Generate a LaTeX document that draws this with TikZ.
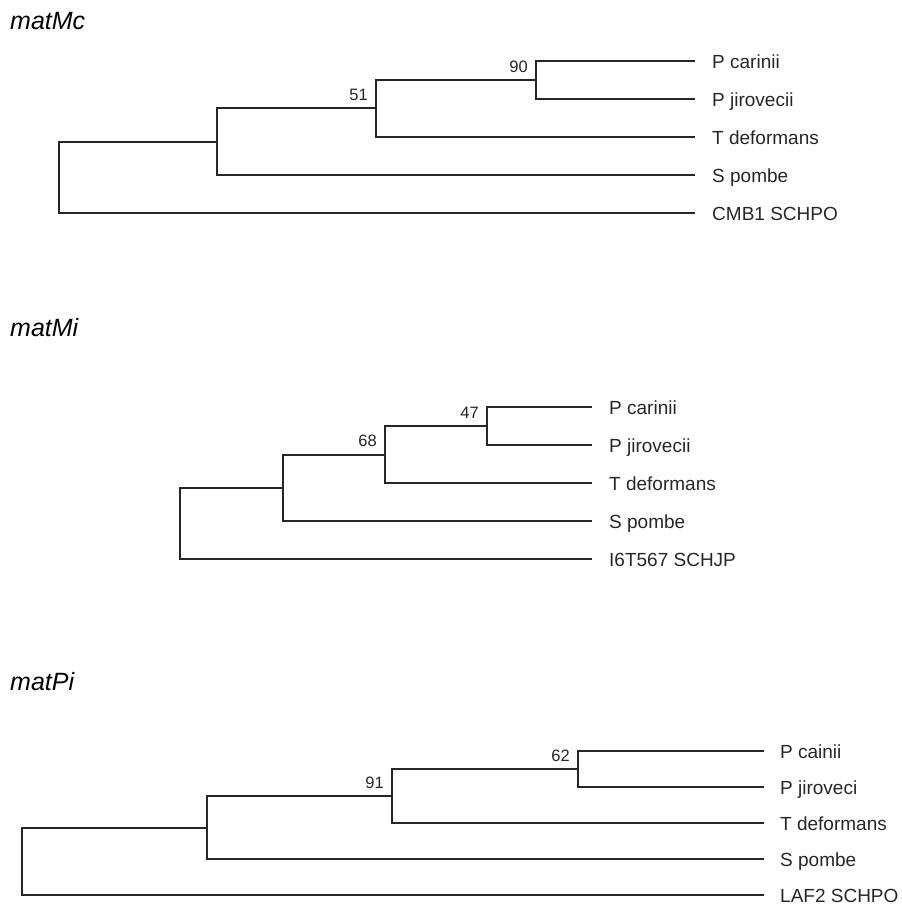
\documentclass[tikz,border=0pt]{standalone}
\usepackage{fontspec}
\setmainfont{Liberation Sans}
\begin{document}
\begin{tikzpicture}[x=1pt,y=-1pt,
  branch/.style={draw=black!85, line width=1.8pt, line join=miter},
  leaf/.style={anchor=base west, inner sep=0pt, text=black!85, font=\fontsize{19}{23}\selectfont},
  boot/.style={anchor=base east, inner sep=0pt, text=black!85, font=\fontsize{16.5}{20}\selectfont},
  ttl/.style={anchor=base west, inner sep=0pt, text=black, font=\fontsize{25}{30}\selectfont\itshape}]
\useasboundingbox (0,0) rectangle (902,905);

% ---------- matMc ----------
\node[ttl] (t1) at (10,29) {matMc};
\coordinate (a1) at (695,61);
\coordinate (a2) at (695,99);
\coordinate (a3) at (695,137);
\coordinate (a4) at (695,175);
\coordinate (a5) at (695,213);
\coordinate (m90) at (536,80);
\coordinate (m51) at (376,108);
\coordinate (m3) at (217,142);
\coordinate (mr) at (59,177);
\node[leaf] (la1) at (712,68) {P carinii};
\node[leaf] (la2) at (712,106) {P jirovecii};
\node[leaf] (la3) at (712,144) {T deformans};
\node[leaf] (la4) at (712,182) {S pombe};
\node[leaf] (la5) at (712,220) {CMB1 SCHPO};
\draw[branch] (a1) -| (m90) |- (a2);
\draw[branch] (m90) -| (m51) |- (a3);
\draw[branch] (m51) -| (m3) |- (a4);
\draw[branch] (m3) -| (mr) |- (a5);
\node[boot] (bm90) at (528,72) {90};
\node[boot] (bm51) at (368,100) {51};

% ---------- matMi ----------
\node[ttl] (t2) at (10,336) {matMi};
\coordinate (b1) at (592,407);
\coordinate (b2) at (592,445);
\coordinate (b3) at (592,483);
\coordinate (b4) at (592,521);
\coordinate (b5) at (592,559);
\coordinate (i47) at (487,426);
\coordinate (i68) at (385,455);
\coordinate (i3) at (283,488);
\coordinate (ir) at (180,523);
\node[leaf] (lb1) at (609,414) {P carinii};
\node[leaf] (lb2) at (609,452) {P jirovecii};
\node[leaf] (lb3) at (609,490) {T deformans};
\node[leaf] (lb4) at (609,528) {S pombe};
\node[leaf] (lb5) at (609,566) {I6T567 SCHJP};
\draw[branch] (b1) -| (i47) |- (b2);
\draw[branch] (i47) -| (i68) |- (b3);
\draw[branch] (i68) -| (i3) |- (b4);
\draw[branch] (i3) -| (ir) |- (b5);
\node[boot] (bi47) at (479,418) {47};
\node[boot] (bi68) at (377,446) {68};

% ---------- matPi ----------
\node[ttl] (t3) at (10,690) {matPi};
\coordinate (c1) at (764,751);
\coordinate (c2) at (764,787);
\coordinate (c3) at (764,823);
\coordinate (c4) at (764,859);
\coordinate (c5) at (764,895);
\coordinate (p62) at (578,769);
\coordinate (p91) at (392,796);
\coordinate (p3) at (207,828);
\coordinate (pr) at (22,861);
\node[leaf] (lc1) at (780,758) {P cainii};
\node[leaf] (lc2) at (780,794) {P jiroveci};
\node[leaf] (lc3) at (780,830) {T deformans};
\node[leaf] (lc4) at (780,866) {S pombe};
\node[leaf] (lc5) at (780,902) {LAF2 SCHPO};
\draw[branch] (c1) -| (p62) |- (c2);
\draw[branch] (p62) -| (p91) |- (c3);
\draw[branch] (p91) -| (p3) |- (c4);
\draw[branch] (p3) -| (pr) |- (c5);
\node[boot] (bp62) at (570,761) {62};
\node[boot] (bp91) at (384,788) {91};
\end{tikzpicture}
\end{document}
